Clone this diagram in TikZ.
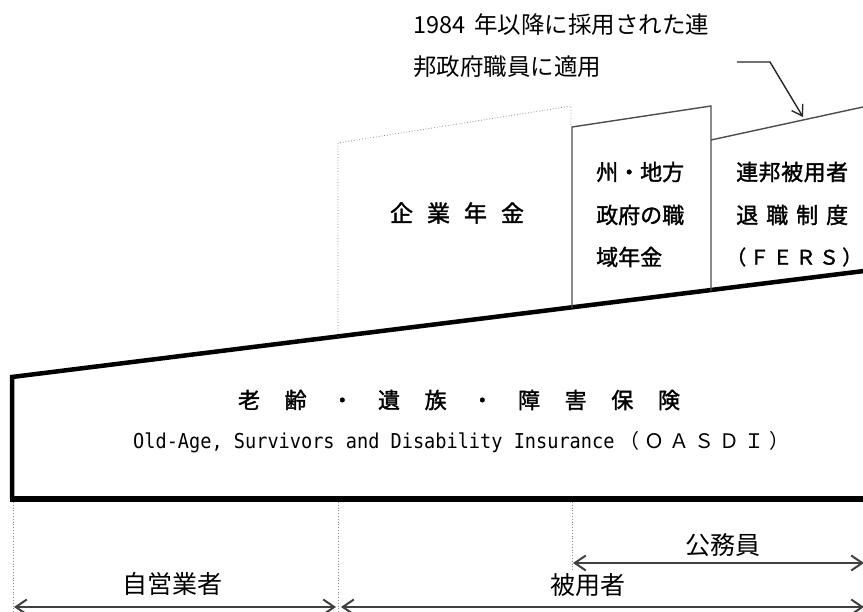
\documentclass[tikz,border=0pt]{standalone}
\usepackage{fontspec}
\setmainfont{Noto Sans CJK JP}
\newfontfamily\jp{Noto Sans CJK JP}
\newfontfamily\jpb[FakeBold=1.5]{Noto Sans CJK JP}
\newfontfamily\monolat{DejaVu Sans Mono}
\usetikzlibrary{arrows.meta}
\begin{document}
\begin{tikzpicture}[x=1pt,y=-1pt,
  thickline/.style={line width=4.5pt,line join=miter,line cap=butt},
  boxline/.style={line width=1.4pt,black!70},
  dotline/.style={line width=0.8pt,black!45,dotted},
  dimarrow/.style={line width=2pt,black!75,{Straight Barb[length=11pt,width=15pt]}-{Straight Barb[length=11pt,width=15pt]}},
  ptrarrow/.style={line width=1.4pt,black!85,-{Straight Barb[length=10pt,width=13pt]}},
  lab/.style={inner sep=0pt,font=\jpb\fontsize{22pt}{24pt}\selectfont},
  toplab/.style={inner sep=0pt,anchor=west,font=\jp\fontsize{23.5pt}{26pt}\selectfont},
  botlab/.style={inner sep=0pt,font=\jp\fontsize{25pt}{27pt}\selectfont}]
\clip (0,0) rectangle (863,612);
% coordinates
\coordinate (oTL) at (12,377);
\coordinate (oTR) at (880,269);
\coordinate (oBL) at (12,499);
\coordinate (oBR) at (880,499);
\coordinate (kB) at (338,337);
\coordinate (kT) at (338,143);
\coordinate (kTR) at (571,106);
\coordinate (kR) at (571,127);
\coordinate (sBL) at (572,308);
\coordinate (sTL) at (572,127);
\coordinate (sTR) at (711,106);
\coordinate (sBR) at (711,291);
\coordinate (fL) at (711,140);
\coordinate (fR) at (880,103.3);
\coordinate (p0) at (737,62);
\coordinate (p1) at (770,62);
\coordinate (p2) at (803,117);
% OASDI outline
\draw[thickline] (oTR) -- (oTL) -- (oBL);
\draw[line width=5.5pt] ([xshift=-2.25pt]oBL) -- (oBR);
% corporate pension (dotted)
\draw[dotline] (kB) -- (kT) -- (kTR) -- (kR);
% state/local box
\draw[boxline] (sBL) -- (sTL) -- (sTR) -- (sBR);
% FERS top
\draw[boxline] (fL) -- (fR);
% pointer arrow
\draw[ptrarrow] (p0) -- (p1) -- (p2);
% texts top
\node[toplab] (t1) at (413,25) {1984\hspace{9pt}年以降に採用された連};
\node[toplab] (t2) at (413,67) {邦政府職員に適用};
% boxes text
\node[lab,font=\jpb\fontsize{23pt}{25pt}\selectfont] (kigyo) at (457,213) {\makebox[134pt][s]{企\hfill 業\hfill 年\hfill 金}};
\node[lab,anchor=west] (s1) at (596,172) {州・地方};
\node[lab,anchor=west] (s2) at (596,215) {政府の職};
\node[lab,anchor=west] (s3) at (596,257) {域年金};
\node[lab,anchor=west] (f1) at (736,172) {\makebox[112pt][s]{連\hfill 邦\hfill 被\hfill 用\hfill 者}};
\node[lab,anchor=west] (f2) at (736,215) {\makebox[112pt][s]{退\hfill 職\hfill 制\hfill 度}};
\node[lab,anchor=west,font=\jpb\fontsize{20pt}{22pt}\selectfont] (f3) at (726,257) {\makebox[136pt][s]{（\hfill Ｆ\hfill Ｅ\hfill Ｒ\hfill Ｓ\hfill ）}};
% OASDI text
\node[lab] (o1) at (459,400) {\makebox[442pt][s]{老\hfill 齢\hfill ・\hfill 遺\hfill 族\hfill ・\hfill 障\hfill 害\hfill 保\hfill 険}};
\node[inner sep=0pt,anchor=base west,font=\monolat\fontsize{20.5pt}{22pt}\selectfont] (o2) at (133,449) {\scalebox{0.907}[1]{Old-Age, Survivors and Disability Insurance}};
\node[inner sep=0pt,anchor=base west,font=\jp\fontsize{20pt}{22pt}\selectfont] (o3) at (619,449) {\makebox[170pt][s]{（\hfill Ｏ\hfill Ａ\hfill Ｓ\hfill Ｄ\hfill Ｉ\hfill ）}};
% bottom guides
\coordinate (g1a) at (13,502); \coordinate (g1b) at (13,612);
\coordinate (g2a) at (338,502); \coordinate (g2b) at (338,612);
\coordinate (g3a) at (572,502); \coordinate (g3b) at (572,570);
\draw[dotline] (g1a) -- (g1b);
\draw[dotline] (g2a) -- (g2b);
\draw[dotline] (g3a) -- (g3b);
% bottom arrows
\coordinate (a1L) at (14,607); \coordinate (a1R) at (336,607);
\coordinate (a2L) at (341,607); \coordinate (a2R) at (864,607);
\coordinate (a3L) at (573,563); \coordinate (a3R) at (864,563);
\draw[dimarrow] (a1L) -- (a1R);
\draw[dimarrow] (a2L) -- (a2R);
\draw[dimarrow] (a3L) -- (a3R);
\node[botlab] (jiei) at (172,584) {自営業者};
\node[botlab] (hiyo) at (588,585) {被用者};
\node[botlab] (komu) at (723,545) {公務員};
\end{tikzpicture}
\end{document}
